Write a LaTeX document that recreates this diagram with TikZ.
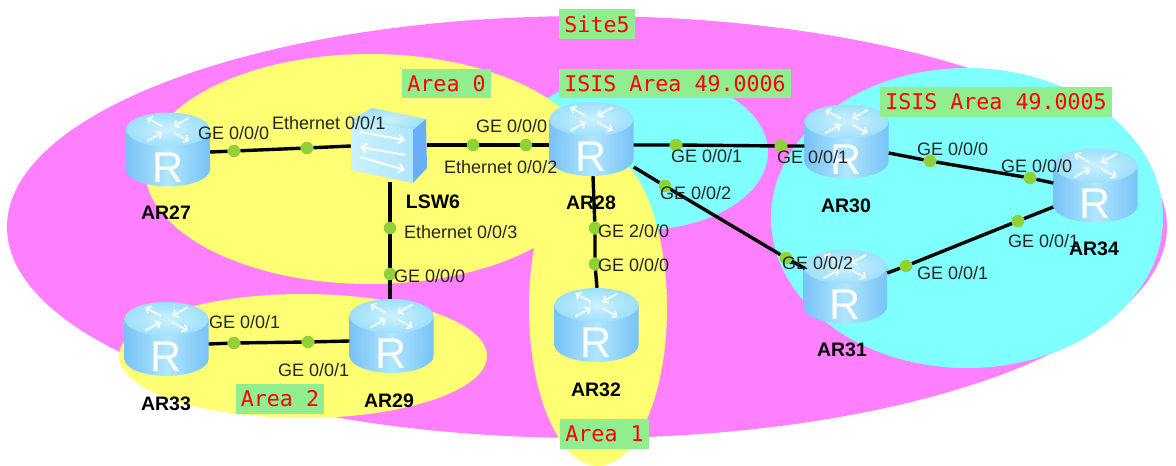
\documentclass[tikz,border=0pt]{standalone}
\usepackage{fontspec}
\setmainfont{Liberation Sans}
\newfontfamily\monof{DejaVu Sans Mono}
\usetikzlibrary{calc,arrows.meta}
\definecolor{sitec}{HTML}{FF80FF}
\definecolor{yelc}{HTML}{FFFF73}
\definecolor{cyac}{HTML}{80FFFF}
\definecolor{linkdot}{HTML}{8FD136}
\definecolor{tagc}{HTML}{90EE90}
\definecolor{rl}{HTML}{78C2F6}
\definecolor{rm}{HTML}{B0E6FF}
\definecolor{rt}{HTML}{9EE0F9}
\definecolor{rc}{HTML}{CBF1FF}
\definecolor{swside}{HTML}{6AAEFA}
\pgfdeclarelayer{rtr}
\pgfdeclarelayer{lnk}
\pgfsetlayers{rtr,lnk,main}
\tikzset{
  link/.style={draw=black,line width=3.4pt},
  portdot/.style={circle,fill=linkdot,inner sep=0pt,minimum size=12.5pt},
  portlabel/.style={font=\fontsize{18}{18}\selectfont,text=black!85,inner sep=0pt,anchor=west},
  devlabel/.style={font=\fontsize{19.5}{20}\selectfont\bfseries,inner sep=0pt},
  tag/.style={fill=tagc,text=red,font=\fontsize{21.6}{22}\selectfont\monof,inner xsep=5pt,inner ysep=0pt,minimum height=29.5pt},
  routerbox/.style={rectangle,minimum width=84pt,minimum height=74pt,inner sep=0pt},
  swbox/.style={rectangle,minimum width=76pt,minimum height=74pt,inner sep=0pt},
  whitearrow/.style={draw=white,line width=1.8pt,opacity=.85,-{Straight Barb[length=4pt,width=8pt]}},
}
\newcommand{\routerart}[3]{%
  \begin{pgfonlayer}{rtr}
  \node[routerbox] (#1) at (#2,#3) {};
  \begin{scope}[shift={(#2,#3)}]
    \path[left color=rl,right color=rl,middle color=rm]
      (-42,-20) -- (-42,20) arc[start angle=180,end angle=0,x radius=42,y radius=17]
      -- (42,-20) -- cycle;
    \shade[inner color=rc,outer color=rt] (0,-20) ellipse[x radius=42,y radius=17];
    \begin{scope}[shift={(0,-20)},yscale=.55]
      \draw[whitearrow] (45:8) -- (45:30);
      \draw[whitearrow] (135:30) -- (135:8);
      \draw[whitearrow] (225:8) -- (225:30);
      \draw[whitearrow] (315:30) -- (315:8);
    \end{scope}
    \node[text=white,font=\fontsize{43}{43}\selectfont,inner sep=0pt] at (0,18) {R};
  \end{scope}
  \end{pgfonlayer}}
\begin{document}
\begin{tikzpicture}[x=1pt,y=-1pt]
\useasboundingbox (0,0) rectangle (1176,466);
\begin{pgfonlayer}{rtr}
\fill[white] (0,0) rectangle (1176,466);
% regions
\fill[sitec] (587,227) ellipse[x radius=580,y radius=211];
\fill[cyac] (640,152) ellipse[x radius=128,y radius=78];
\fill[yelc] (370,169) ellipse[x radius=225,y radius=115];
\fill[yelc] (598,308) ellipse[x radius=69,y radius=158];
\fill[yelc] (303,356) ellipse[x radius=184,y radius=62];
\fill[cyac] (967,218) ellipse[x radius=196,y radius=150];
\end{pgfonlayer}
% port dots
\node[portdot] (d1) at (234,151) {};
\node[portdot] (d2) at (307,148) {};
\node[portdot] (d3) at (473,145) {};
\node[portdot] (d4) at (526,145) {};
\node[portdot] (d5) at (390,228) {};
\node[portdot] (d6) at (390,274) {};
\node[portdot] (d7) at (234,343) {};
\node[portdot] (d8) at (308,342) {};
\node[portdot] (d9) at (595,228) {};
\node[portdot] (d10) at (595,264) {};
\node[portdot] (d11) at (676,145) {};
\node[portdot] (d12) at (781,146) {};
\node[portdot] (d13) at (665,186) {};
\node[portdot] (d14) at (786,258) {};
\node[portdot] (d15) at (930,161) {};
\node[portdot] (d16) at (1030,178) {};
\node[portdot] (d17) at (906,266) {};
\node[portdot] (d18) at (1018,221) {};
% devices
\routerart{AR27}{168}{149.5}
\routerart{AR28}{591.5}{139}
\routerart{AR30}{846.5}{141.5}
\routerart{AR34}{1095.5}{185.5}
\routerart{AR31}{845}{286.5}
\routerart{AR32}{596.5}{325}
\routerart{AR33}{166.5}{339}
\routerart{AR29}{391.5}{336}
\begin{pgfonlayer}{rtr}
\node[swbox] (LSW6) at (389,145) {};
\shade[inner color=rc,outer color=rt] (351,120) -- (372,108) -- (426,119) -- (413,130) -- cycle;
\shade[left color=rc,right color=rm] (351,120) -- (413,130) -- (413,183) -- (351,170) -- cycle;
\fill[swside] (413,130) -- (426,119) -- (427,168) -- (413,183) -- cycle;
\draw[white,line width=2pt,-{Straight Barb[length=5pt,width=9pt]}] (360,132) -- (405,140);
\draw[white,line width=2pt,-{Straight Barb[length=5pt,width=9pt]}] (405,155) -- (360,147);
\draw[white,line width=2pt,-{Straight Barb[length=5pt,width=9pt]}] (360,157) -- (405,170);
\end{pgfonlayer}
% links
\coordinate (e31) at (805,268.5);
\begin{pgfonlayer}{lnk}
\draw[link] (AR27.east |- 0,152) -- (d1) -- (d2) -- (LSW6.west |- 0,146);
\draw[link] (LSW6.east |- d3) -- (d3) -- (d4) -- (AR28.west |- d4);
\draw[link] (LSW6.south -| d5) -- (d5) -- (d6) -- (AR29.north -| d6);
\draw[link] (AR33.east |- 0,344) -- (d7) -- (d8) -- (AR29.west |- 0,341);
\draw[link] (AR28.south -| 593,0) -- (d9) -- (d10) -- (AR32.north -| 597,0);
\draw[link] (AR28.east |- d11) -- (d11) -- (d12) -- (AR30.west |- d12);
\draw[link] (AR28.east |- 0,167) -- (d13) -- (d14) -- (e31);
\draw[link] (AR30.east |- 0,153) -- (d15) -- (d16) -- (AR34.west |- 0,183);
\draw[link] (AR31.east |- 0,273) -- (d17) -- (d18) -- (AR34.west |- 0,207);
\end{pgfonlayer}
% labels
\node[portlabel] at (198,133) {GE 0/0/0};
\node[portlabel] at (272,123) {Ethernet 0/0/1};
\node[portlabel] at (476,126) {GE 0/0/0};
\node[portlabel] at (444,167) {Ethernet 0/0/2};
\node[portlabel] at (404,232) {Ethernet 0/0/3};
\node[portlabel] at (394,276) {GE 0/0/0};
\node[portlabel] at (209,322) {GE 0/0/1};
\node[portlabel] at (278,370) {GE 0/0/1};
\node[portlabel] at (598,231) {GE 2/0/0};
\node[portlabel] at (598,265) {GE 0/0/0};
\node[portlabel] at (671,156) {GE 0/0/1};
\node[portlabel] at (777,157) {GE 0/0/1};
\node[portlabel] at (660,193) {GE 0/0/2};
\node[portlabel] at (782,263) {GE 0/0/2};
\node[portlabel] at (917,149) {GE 0/0/0};
\node[portlabel] at (1001,166) {GE 0/0/0};
\node[portlabel] at (917,273) {GE 0/0/1};
\node[portlabel] at (1008,241) {GE 0/0/1};
\node[devlabel] at (166,213) {AR27};
\node[devlabel] at (433,202) {LSW6};
\node[devlabel] at (591,203) {AR28};
\node[devlabel] at (846,206) {AR30};
\node[devlabel] at (1094,249) {AR34};
\node[devlabel] at (842,349.5) {AR31};
\node[devlabel] at (596,389.5) {AR32};
\node[devlabel] at (166,404) {AR33};
\node[devlabel] at (389,400.5) {AR29};
\node[tag] at (597,24) {Site5};
\node[tag] at (446.5,83.5) {Area 0};
\node[tag] at (675,83.5) {ISIS Area 49.0006};
\node[tag] at (996,102) {ISIS Area 49.0005};
\node[tag] at (280,399) {Area 2};
\node[tag] at (604.5,434) {Area 1};
\end{tikzpicture}
\end{document}
